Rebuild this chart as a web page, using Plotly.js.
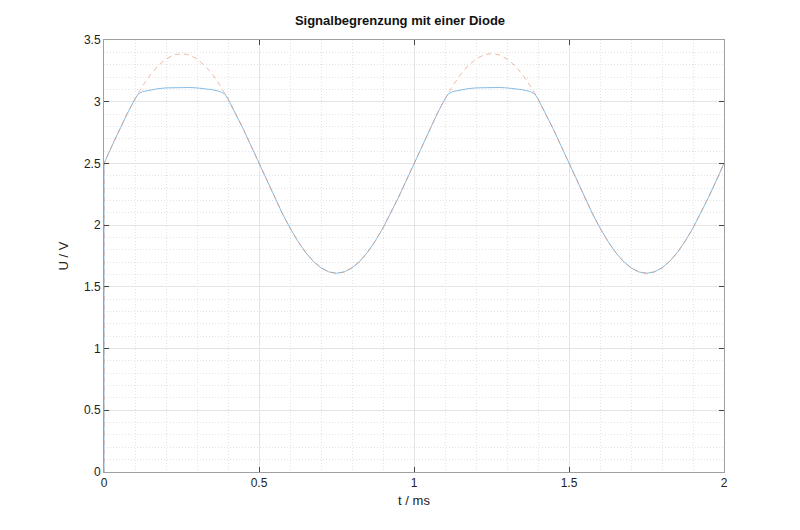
<!DOCTYPE html>
<html>
<head>
<meta charset="utf-8">
<script src="https://cdn.plot.ly/plotly-3.0.1.min.js"></script>
<style>html,body{margin:0;padding:0;background:#fff;}#chart{width:800px;height:530px;}</style>
</head>
<body>
<div id="chart"></div>
<script>
// Unclipped input signal (dashed)
const tIn = [0, 0, 0.025, 0.05, 0.075, 0.1, 0.125, 0.15, 0.175, 0.2, 0.225, 0.25, 0.275, 0.3, 0.325, 0.35, 0.375, 0.4, 0.425, 0.45, 0.475, 0.5,
  0.525, 0.55, 0.575, 0.6, 0.625, 0.65, 0.675, 0.7, 0.725, 0.75, 0.775, 0.8, 0.825, 0.85, 0.875, 0.9, 0.925, 0.95, 0.975, 1.0,
  1.025, 1.05, 1.075, 1.1, 1.125, 1.15, 1.175, 1.2, 1.225, 1.25, 1.275, 1.3, 1.325, 1.35, 1.375, 1.4, 1.425, 1.45, 1.475, 1.5,
  1.525, 1.55, 1.575, 1.6, 1.625, 1.65, 1.675, 1.7, 1.725, 1.75, 1.775, 1.8, 1.825, 1.85, 1.875, 1.9, 1.925, 1.95, 1.975, 2.0];
const uIn = [0, 2.5, 2.639, 2.775, 2.904, 3.023, 3.129, 3.220, 3.293, 3.346, 3.379, 3.39, 3.379, 3.346, 3.293, 3.220, 3.129, 3.023, 2.904, 2.775, 2.639, 2.5,
  2.361, 2.225, 2.096, 1.977, 1.871, 1.780, 1.707, 1.654, 1.621, 1.61, 1.621, 1.654, 1.707, 1.780, 1.871, 1.977, 2.096, 2.225, 2.361, 2.5,
  2.639, 2.775, 2.904, 3.023, 3.129, 3.220, 3.293, 3.346, 3.379, 3.39, 3.379, 3.346, 3.293, 3.220, 3.129, 3.023, 2.904, 2.775, 2.639, 2.5,
  2.361, 2.225, 2.096, 1.977, 1.871, 1.780, 1.707, 1.654, 1.621, 1.61, 1.621, 1.654, 1.707, 1.780, 1.871, 1.977, 2.096, 2.225, 2.361, 2.5];
// Clipped output signal (solid)
const tOut = [0, 0, 0.025, 0.05, 0.075, 0.1, 0.11, 0.125, 0.15, 0.175, 0.2, 0.225, 0.25, 0.275, 0.3, 0.325, 0.35, 0.375, 0.39, 0.4, 0.425, 0.45, 0.475, 0.5,
  0.525, 0.55, 0.575, 0.6, 0.625, 0.65, 0.675, 0.7, 0.725, 0.75, 0.775, 0.8, 0.825, 0.85, 0.875, 0.9, 0.925, 0.95, 0.975, 1.0,
  1.025, 1.05, 1.075, 1.1, 1.11, 1.125, 1.15, 1.175, 1.2, 1.225, 1.25, 1.275, 1.3, 1.325, 1.35, 1.375, 1.39, 1.4, 1.425, 1.45, 1.475, 1.5,
  1.525, 1.55, 1.575, 1.6, 1.625, 1.65, 1.675, 1.7, 1.725, 1.75, 1.775, 1.8, 1.825, 1.85, 1.875, 1.9, 1.925, 1.95, 1.975, 2.0];
const uOut = [0, 2.5, 2.639, 2.775, 2.904, 3.023, 3.062, 3.082, 3.097, 3.106, 3.112, 3.115, 3.116, 3.115, 3.112, 3.106, 3.097, 3.082, 3.062, 3.023, 2.904, 2.775, 2.639, 2.5,
  2.361, 2.225, 2.096, 1.977, 1.871, 1.780, 1.707, 1.654, 1.621, 1.61, 1.621, 1.654, 1.707, 1.780, 1.871, 1.977, 2.096, 2.225, 2.361, 2.5,
  2.639, 2.775, 2.904, 3.023, 3.062, 3.082, 3.097, 3.106, 3.112, 3.115, 3.116, 3.115, 3.112, 3.106, 3.097, 3.082, 3.062, 3.023, 2.904, 2.775, 2.639, 2.5,
  2.361, 2.225, 2.096, 1.977, 1.871, 1.780, 1.707, 1.654, 1.621, 1.61, 1.621, 1.654, 1.707, 1.780, 1.871, 1.977, 2.096, 2.225, 2.361, 2.5];
const xTicks = [0, 0.5, 1, 1.5, 2];
const yTicks = [0, 0.5, 1, 1.5, 2, 2.5, 3, 3.5];

const font = 'Liberation Sans, Arial, Helvetica, sans-serif';
const traces = [
  {x: tOut, y: uOut, mode: 'lines', line: {color: '#86bde6', width: 1}, hoverinfo: 'skip'},
  {x: tIn, y: uIn, mode: 'lines', line: {color: 'rgba(228,140,100,0.6)', width: 1, dash: '5px,4px'}, hoverinfo: 'skip'}
];
const axisCommon = {
  showline: true, linecolor: '#a0a0a0', linewidth: 1, mirror: 'ticks',
  ticks: 'inside', ticklen: 5, tickcolor: '#444', tickwidth: 1,
  showgrid: true, gridcolor: '#e4e4e4', gridwidth: 1, zeroline: false,
  tickfont: {family: font, size: 12, color: '#222'},
  tickmode: 'array'
};
const minorGrid = {dtick: 0.1, showgrid: true, gridcolor: '#e3e3e3', griddash: '1px,2px', gridwidth: 1, ticks: ''};
const layout = {
  width: 800, height: 530,
  margin: {l: 104, r: 76, t: 40, b: 58},
  paper_bgcolor: '#fff', plot_bgcolor: '#fff',
  showlegend: false,
  title: {text: '<b>Signalbegrenzung mit einer Diode</b>', font: {family: font, size: 13, color: '#111'}, x: 0.5, xanchor: 'center', y: 0.962, yanchor: 'middle'},
  xaxis: Object.assign({}, axisCommon, {
    range: [0, 2], tickvals: xTicks, ticktext: xTicks.map(String),
    minor: minorGrid,
    title: {text: 't / ms', font: {family: font, size: 13, color: '#222'}, standoff: 6}
  }),
  yaxis: Object.assign({}, axisCommon, {
    range: [0, 3.5], tickvals: yTicks, ticktext: yTicks.map(String),
    minor: minorGrid,
    title: {text: 'U / V', font: {family: font, size: 13, color: '#222'}, standoff: 12}
  })
};
Plotly.newPlot('chart', traces, layout, {displayModeBar: false, staticPlot: true});
</script>
</body>
</html>
